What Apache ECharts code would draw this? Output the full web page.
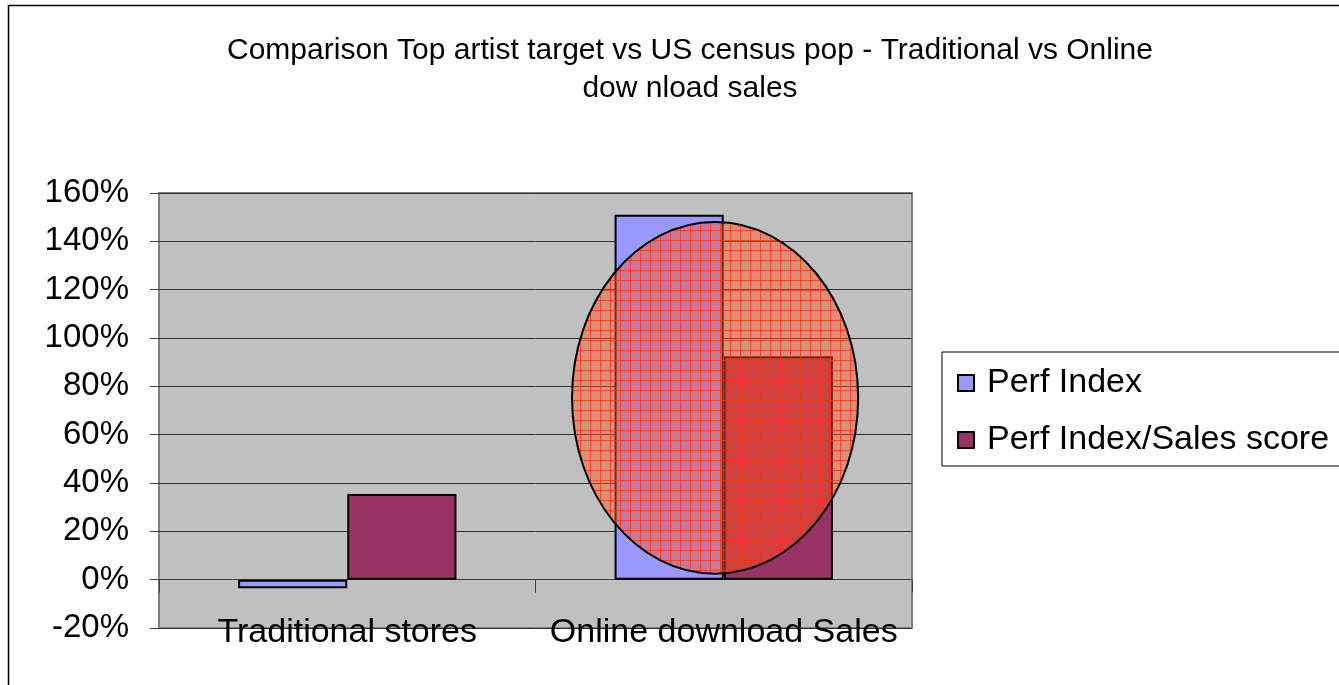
<!DOCTYPE html>
<html>
<head>
<meta charset="utf-8">
<script src="https://cdn.jsdelivr.net/npm/echarts@6/dist/echarts.min.js"></script>
<style>
  html, body { margin: 0; padding: 0; background: #fff; }
  #chart { width: 1339px; height: 685px; }
</style>
</head>
<body>
<div id="chart"></div>
<script>
// Sales channel comparison
const categories = ['Traditional stores', 'Online download Sales'];
const perfIndex = [-3.5, 151];
const perfIndexSalesScore = [35.5, 92.5];
const seriesNames = ['Perf Index', 'Perf Index/Sales score'];
const yTicks = { min: -20, max: 160, interval: 20 };
const titleText = 'Comparison Top artist target vs US census pop - Traditional vs Online\ndow nload sales';
// highlighted range on the online channel (value span, in %)
const highlightSpan = [2.5, 148];

const FONT = '"Liberation Sans", Arial, sans-serif';

const chart = echarts.init(document.getElementById('chart'), null, { renderer: 'canvas' });

const option = {
  backgroundColor: '#ffffff',
  animation: false,
  title: {
    text: titleText,
    left: 685,
    textAlign: 'center',
    top: 27,
    textStyle: { fontFamily: FONT, fontSize: 30, fontWeight: 'normal', color: '#000', lineHeight: 38 }
  },
  legend: {
    orient: 'vertical',
    left: 942,
    top: 352,
    padding: [13, 30, 8, 15],
    itemGap: 21,
    itemWidth: 16,
    itemHeight: 16,
    icon: 'rect',
    borderColor: '#000',
    borderWidth: 1,
    backgroundColor: '#fff',
    textStyle: { fontFamily: FONT, fontSize: 34, color: '#000', lineHeight: 36, padding: [0, 0, 0, 8] },
    data: seriesNames
  },
  grid: {
    left: 159, top: 193, right: 427, bottom: 57,
    show: true,
    backgroundColor: '#C0C0C0',
    borderColor: '#808080',
    borderWidth: 2
  },
  xAxis: [
    {
      type: 'category',
      data: categories,
      position: 'bottom',
      axisLine: { show: false, onZero: false },
      axisTick: { show: false },
      axisLabel: { fontFamily: FONT, fontSize: 34, color: '#000', margin: -12, interval: 0, hideOverlap: false },
      splitLine: { show: false }
    },
    {
      type: 'category',
      data: categories,
      position: 'bottom',
      axisLine: { show: true, onZero: true, lineStyle: { color: '#404040', width: 1 } },
      axisTick: { show: true, length: 13, lineStyle: { color: '#404040', width: 1 } },
      axisLabel: { show: false },
      splitLine: { show: false }
    }
  ],
  yAxis: {
    type: 'value',
    min: yTicks.min,
    max: yTicks.max,
    interval: yTicks.interval,
    axisLine: { show: false },
    axisTick: { show: true, length: 9, lineStyle: { color: '#404040' } },
    axisLabel: {
      fontFamily: FONT, fontSize: 33, color: '#000', margin: 30,
      formatter: v => v + '%'
    },
    splitLine: { show: true, lineStyle: { color: '#303030', width: 1 } }
  },
  series: [
    {
      name: seriesNames[0],
      type: 'bar',
      data: perfIndex,
      barGap: '0%',
      barCategoryGap: '42%',
      itemStyle: { color: '#9999FF', borderColor: '#000', borderWidth: 2 }
    },
    {
      name: seriesNames[1],
      type: 'bar',
      data: perfIndexSalesScore,
      barGap: '0%',
      barCategoryGap: '42%',
      itemStyle: { color: '#993366', borderColor: '#000', borderWidth: 2 }
    }
  ]
};

chart.setOption(option);

// cross-hatched tile for the highlight ellipse
function hatchTile() {
  const c = document.createElement('canvas');
  c.width = 10; c.height = 10;
  const g = c.getContext('2d');
  g.fillStyle = 'rgba(255,85,30,0.47)';
  g.fillRect(0, 0, 10, 10);
  g.fillStyle = 'rgba(255,45,0,0.7)';
  g.fillRect(0, 0, 10, 1);
  g.fillRect(0, 0, 1, 10);
  return c;
}

function drawOverlay() {
  const onlineX = chart.convertToPixel({ xAxisIndex: 0 }, categories[1]);
  const tradX = chart.convertToPixel({ xAxisIndex: 0 }, categories[0]);
  const band = onlineX - tradX;
  const yTop = chart.convertToPixel({ yAxisIndex: 0 }, highlightSpan[1]);
  const yBot = chart.convertToPixel({ yAxisIndex: 0 }, highlightSpan[0]);
  const cx = onlineX - band * 0.023;
  const cy = (yTop + yBot) / 2;
  const rx = band * 0.38;
  const ry = (yBot - yTop) / 2;

  chart.setOption({
    graphic: [
      {
        type: 'rect',
        z: -10,
        silent: true,
        shape: { x: 8.5, y: 5.5, width: 1345, height: 700 },
        style: { fill: 'none', stroke: '#000', lineWidth: 1.5 }
      },
      {
        type: 'ellipse',
        z: 100,
        silent: true,
        shape: { cx: cx, cy: cy, rx: rx, ry: ry },
        style: {
          fill: { type: 'pattern', image: hatchTile(), repeat: 'repeat' },
          stroke: '#000',
          lineWidth: 2
        }
      }
    ]
  });
}

drawOverlay();
</script>
</body>
</html>
